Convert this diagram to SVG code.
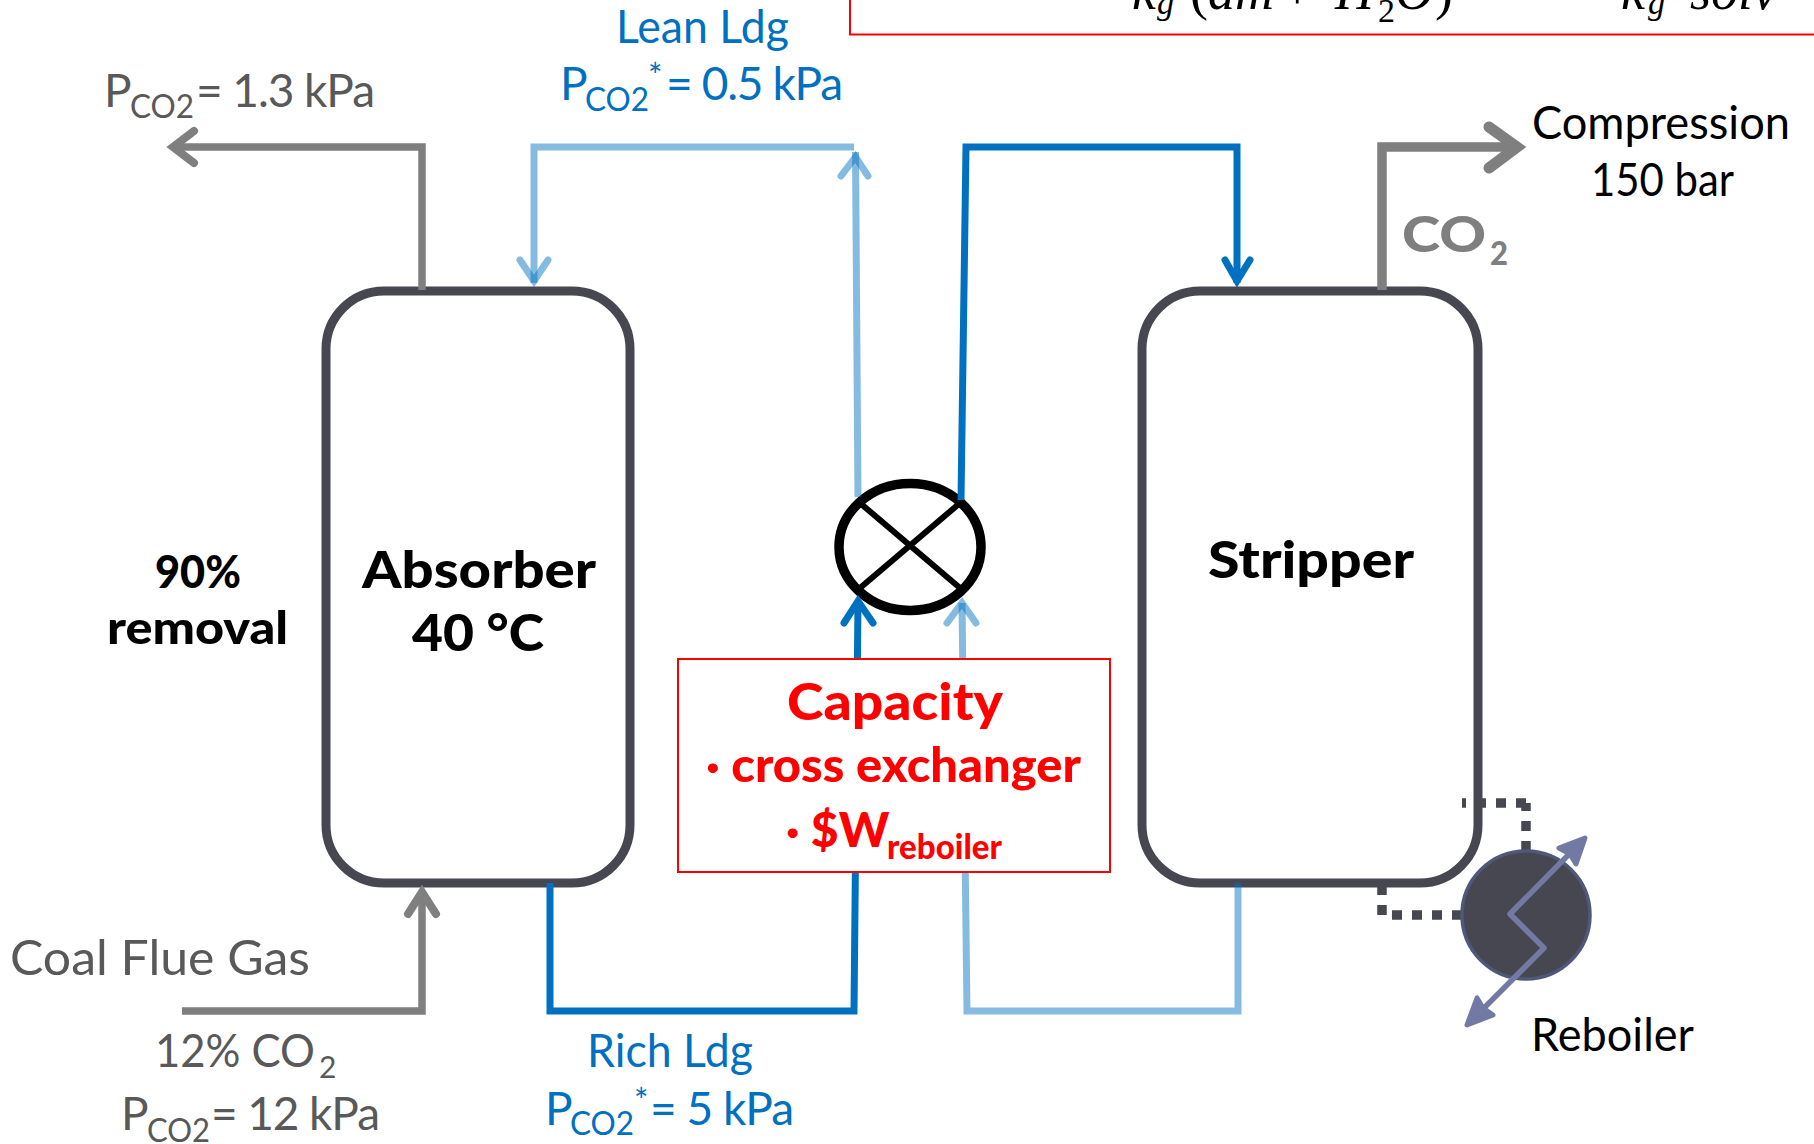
<svg xmlns="http://www.w3.org/2000/svg" width="1814" height="1144" viewBox="0 0 1814 1144">
<style>
text{font-family:"Lato","Noto Sans","Liberation Sans",sans-serif;}
.g{fill:#595959}.b{fill:#0070c0}.k{fill:#000}.r{fill:#f00}.bd{font-weight:900}
.vessel{fill:#fff;stroke:#474752;stroke-width:9}
.f{fill:none;stroke-linejoin:miter}
.gray{stroke:#7f7f7f;stroke-width:7.500}
.grayh{stroke:#7f7f7f;stroke-width:8;fill:none;stroke-linecap:round;stroke-linejoin:miter}
.dk{stroke:#0070c0;stroke-width:7}
.dkh{stroke:#0070c0;stroke-width:7;fill:none;stroke-linecap:round}
.lt{stroke:#0070c0;stroke-opacity:.48;stroke-width:7}
.lth{stroke:#0070c0;stroke-opacity:.48;stroke-width:7;fill:none;stroke-linecap:round}
.dot{stroke:#474752;stroke-width:9.500;fill:none;stroke-dasharray:10 10}
.zig{stroke:#7279a3;stroke-width:5.500;fill:none;stroke-linejoin:round;stroke-linecap:round}
.redbox{fill:#fff;stroke:#f00;stroke-width:2}
.m{font-family:"Liberation Serif",serif;font-style:italic;fill:#000;font-size:54px}
.m .rm{font-style:normal}
.m .sub{font-size:34px}
</style>
<g id="equation-box">
<rect class="redbox" x="850" y="-40" width="1000" height="74.500"/>
<text class="m"><tspan x="1132" y="9">k</tspan><tspan class="sub" x="1157" y="14">g</tspan><tspan class="rm" x="1190" y="9">(</tspan><tspan x="1208" y="9">am</tspan><tspan class="rm" x="1282" y="9">+</tspan><tspan x="1335" y="9">H</tspan><tspan class="rm sub" x="1378" y="22">2</tspan><tspan x="1395" y="9">O</tspan><tspan class="rm" x="1435" y="9">)</tspan></text>
<text class="m"><tspan x="1621" y="9">k</tspan><tspan class="sub" x="1648" y="14">g</tspan><tspan x="1690" y="9">solv</tspan></text>
</g>
<g id="absorber">
<rect class="vessel" x="326" y="291" width="304" height="592" rx="58"/>
<text class="k bd" font-size="52" x="362" y="588" textLength="234" lengthAdjust="spacingAndGlyphs">Absorber</text>
<text class="k bd" font-size="52" x="412" y="651" textLength="132" lengthAdjust="spacingAndGlyphs">40 °C</text>
</g>
<g id="stripper">
<rect class="vessel" x="1142" y="291" width="336" height="592" rx="58"/>
<text class="k bd" font-size="52" x="1208" y="578" textLength="206" lengthAdjust="spacingAndGlyphs">Stripper</text>
</g>
<g id="cross-exchanger">
<ellipse cx="910" cy="547" rx="71" ry="63.500" fill="#fff" stroke="#000" stroke-width="9.500"/>
<path d="M860,503 L960,588 M960,503 L860,588" stroke="#000" stroke-width="6" fill="none"/>
</g>
<g id="connectors">
<path class="f gray" d="M422,290 V147 H173"/>
<path class="grayh" d="M194,131 L173,147 L194,163"/>
<path class="f gray" d="M182,1011 H422 V892"/>
<path class="grayh" d="M408,914 L422,892 L436,914"/>
<path class="f gray" style="stroke-width:9.500" d="M1382,290 V147 H1517"/>
<path class="grayh" style="stroke-width:11" d="M1489,127 L1517,147 L1489,168"/>
<path class="f lt" d="M534,283 V147 H854"/>
<path class="lth" d="M520,260 L534,281 L548,260"/>
<path class="f lt" d="M858,497 L855.500,152"/>
<path class="lth" d="M841,176 L855.500,157 L868,176"/>
<path class="f dk" d="M961,500 L966,147 H1237 V283"/>
<path class="dkh" d="M1225,260 L1237,281 L1250,260"/>
<path class="f dk" d="M550,883 V1011 H854 L858,601"/>
<path class="dkh" d="M844,623 L858,601 L873,623"/>
<path class="f lt" d="M1238,883 V1011 H967 L962,603"/>
<path class="lth" d="M947,623 L962,603 L976,623"/>
</g>
<g id="capacity-box">
<rect class="redbox" x="678" y="659" width="432" height="213"/>
<text class="r bd" font-size="52" x="787" y="720" textLength="216" lengthAdjust="spacingAndGlyphs">Capacity</text>
<text class="r bd" font-size="48" x="706" y="782" textLength="375" lengthAdjust="spacingAndGlyphs">· cross exchanger</text>
<text class="r bd" font-size="48" x="786" y="847">· $W</text>
<text class="r bd" font-size="34" x="887" y="859" textLength="115" lengthAdjust="spacingAndGlyphs">reboiler</text>
</g>
<g id="reboiler">
<path class="dot" d="M1462,803 H1526" stroke-dashoffset="6"/>
<path class="dot" d="M1526,803 V851" stroke-dashoffset="2"/>
<path class="dot" d="M1382,885 V915"/>
<path class="dot" d="M1392,915 H1462"/>
<circle cx="1526" cy="915" r="64" fill="#474752" stroke="#4f5878" stroke-width="3.500"/>
<path class="zig" d="M1469,1023 L1544,948 L1510,914 L1583,840"/>
<path d="M1559,848 L1585,838 L1576,864 L1570,854 Z" fill="#7279a3" stroke="#7279a3" stroke-width="5" stroke-linejoin="round"/>
<path d="M1477,998 L1467,1025 L1493,1015 L1483,1008 Z" fill="#7279a3" stroke="#7279a3" stroke-width="5" stroke-linejoin="round"/>
<text class="k" font-size="46" x="1531" y="1051" textLength="163" lengthAdjust="spacingAndGlyphs">Reboiler</text>
</g>
<g id="labels">
<text class="k" font-size="46" x="1532" y="139" textLength="258" lengthAdjust="spacingAndGlyphs">Compression</text>
<text class="k" font-size="46" x="1591" y="196" textLength="143" lengthAdjust="spacingAndGlyphs">150 bar</text>
<text fill="#7f7f7f" class="bd" font-size="50" x="1402" y="252" textLength="84" lengthAdjust="spacingAndGlyphs">CO</text>
<text fill="#7f7f7f" class="bd" font-size="32" x="1490" y="265" textLength="18" lengthAdjust="spacingAndGlyphs">2</text>

<text class="b" font-size="46" x="616" y="43" textLength="173" lengthAdjust="spacingAndGlyphs">Lean Ldg</text>
<text class="b" font-size="46" x="560" y="100">P</text>
<text class="b" font-size="32" x="585" y="111" textLength="64" lengthAdjust="spacingAndGlyphs">CO2</text>
<text class="b" font-size="34" x="648" y="88">*</text>
<text class="b" font-size="46" x="666" y="100" textLength="177" lengthAdjust="spacing">= 0.5 kPa</text>

<text class="g" font-size="46" x="104" y="107">P</text>
<text class="g" font-size="32" x="130" y="118" textLength="64" lengthAdjust="spacingAndGlyphs">CO2</text>
<text class="g" font-size="46" x="196" y="107" textLength="179" lengthAdjust="spacing">= 1.3 kPa</text>

<text class="g" font-size="49" x="10" y="975" textLength="300" lengthAdjust="spacingAndGlyphs">Coal Flue Gas</text>
<text class="g" font-size="46" x="155" y="1067" textLength="160" lengthAdjust="spacingAndGlyphs">12% CO</text>
<text class="g" font-size="30" x="319" y="1078">2</text>
<text class="g" font-size="46" x="121" y="1130">P</text>
<text class="g" font-size="32" x="147" y="1142" textLength="63" lengthAdjust="spacingAndGlyphs">CO2</text>
<text class="g" font-size="46" x="211" y="1130" textLength="169" lengthAdjust="spacing">= 12 kPa</text>

<text class="b" font-size="46" x="587" y="1067" textLength="166" lengthAdjust="spacingAndGlyphs">Rich Ldg</text>
<text class="b" font-size="46" x="545" y="1125">P</text>
<text class="b" font-size="32" x="570" y="1135" textLength="64" lengthAdjust="spacingAndGlyphs">CO2</text>
<text class="b" font-size="34" x="634" y="1113">*</text>
<text class="b" font-size="46" x="650" y="1125" textLength="144" lengthAdjust="spacing">= 5 kPa</text>

<text class="k bd" font-size="46" x="155" y="588" textLength="86" lengthAdjust="spacingAndGlyphs">90%</text>
<text class="k bd" font-size="46" x="107" y="644" textLength="181" lengthAdjust="spacingAndGlyphs">removal</text>
</g>
</svg>
